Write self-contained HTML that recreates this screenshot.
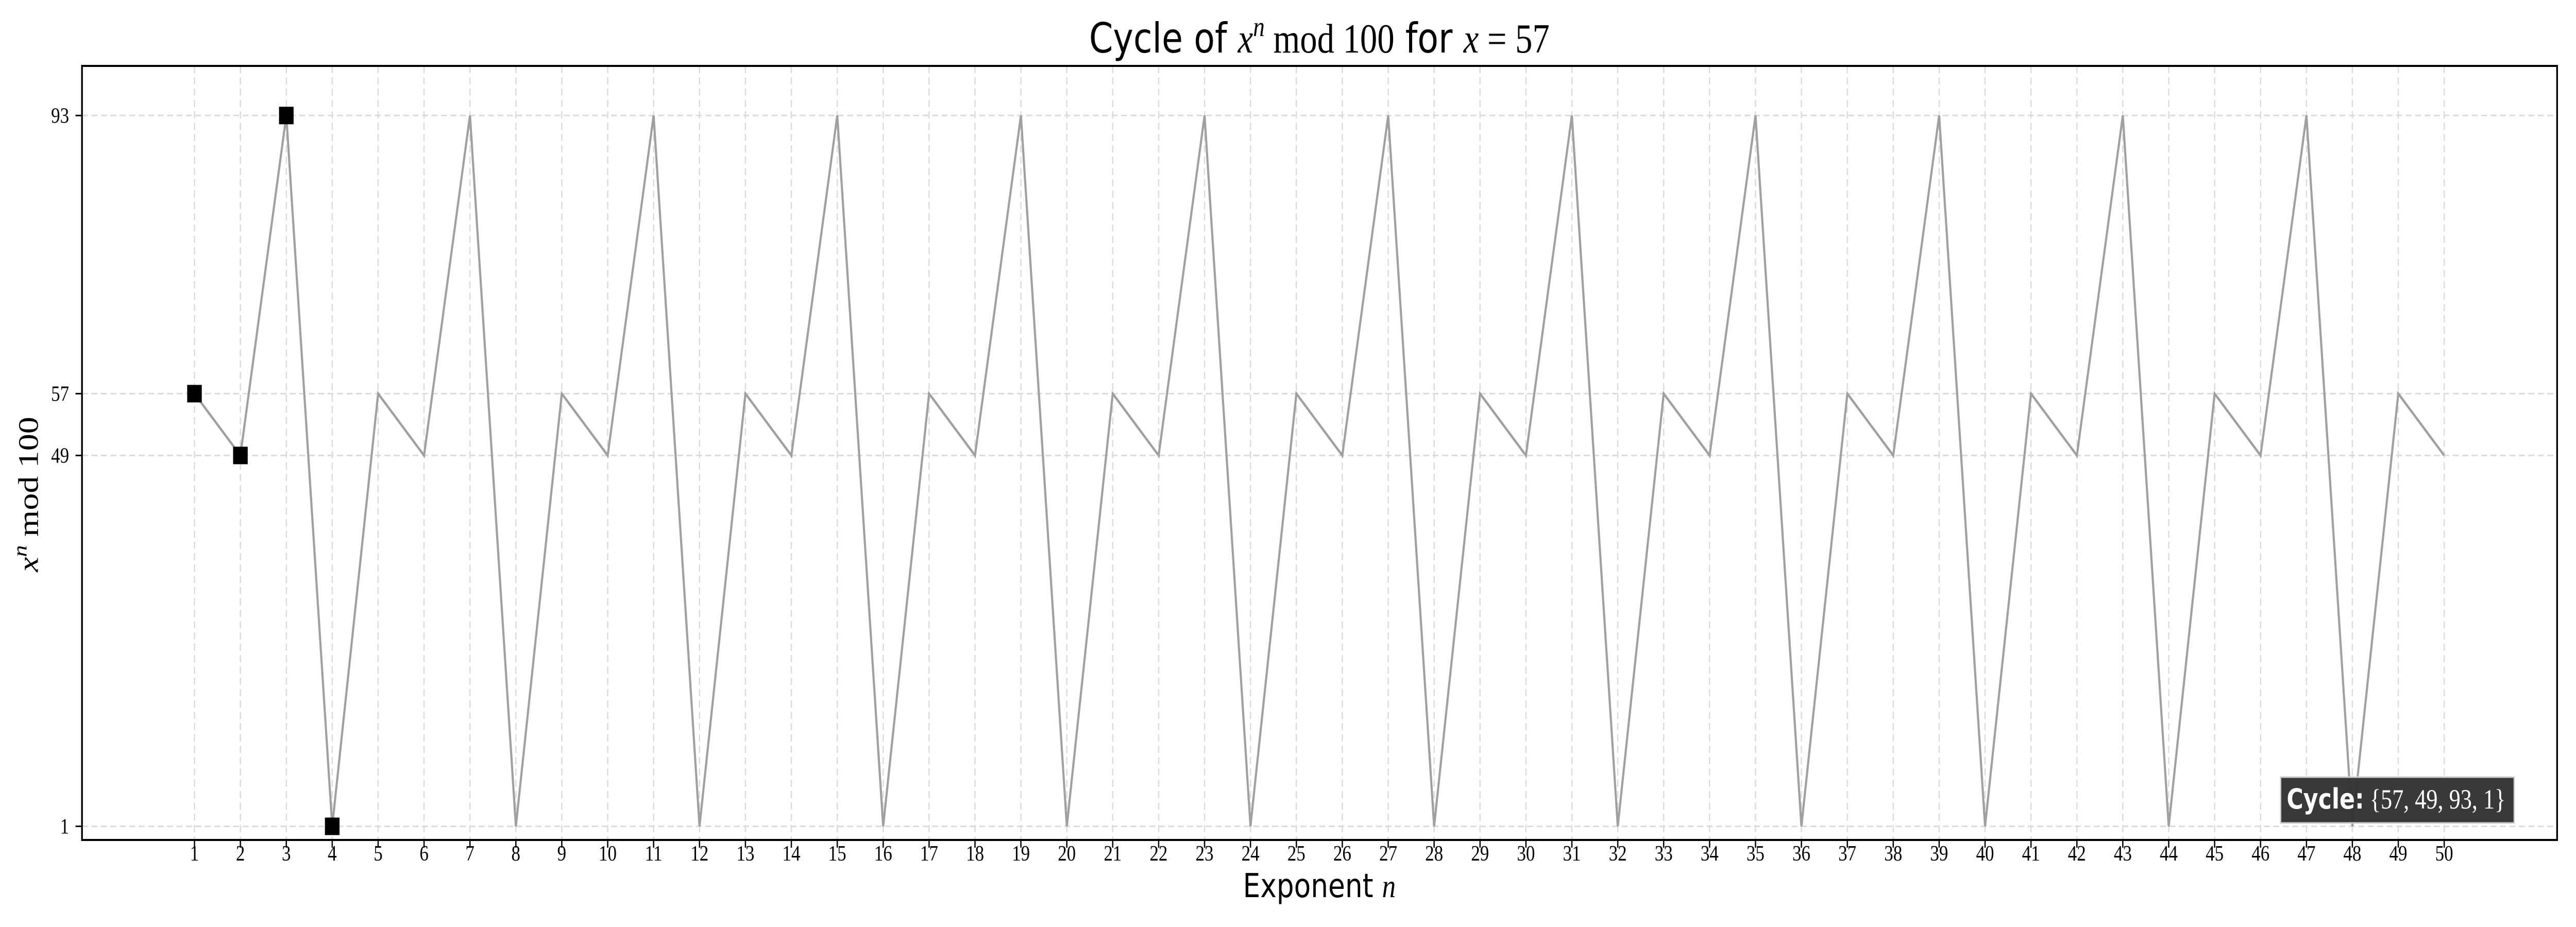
<!DOCTYPE html>
<html><head><meta charset="utf-8"><style>
html,body{margin:0;padding:0;background:#fff;width:100%;height:100%;overflow:hidden;}
svg{display:block;width:100vw;height:100vh;}
</style></head><body>
<svg id="chart" viewBox="0 0 6000 1800" preserveAspectRatio="none" xmlns="http://www.w3.org/2000/svg">
<rect x="0" y="0" width="6000" height="1800" fill="#fff"/>
<g id="grid"></g>
<g id="series"></g>
<rect x="191" y="128" width="5765" height="1503" fill="none" stroke="#000" stroke-width="4"/>
<g id="ticks"></g>
<text x="3073" y="102" text-anchor="middle" font-family="'DejaVu Sans', 'Liberation Sans', sans-serif" font-size="80">Cycle of <tspan font-family="'Liberation Serif', serif" font-style="italic">x</tspan><tspan font-family="'Liberation Serif', serif" font-style="italic" font-size="54" dy="-32">n</tspan><tspan font-family="'Liberation Serif', serif" dy="32"> mod 100</tspan> for <tspan font-family="'Liberation Serif', serif" font-style="italic">x</tspan><tspan font-family="'Liberation Serif', serif"> = 57</tspan></text>
<text x="3073" y="1742" text-anchor="middle" font-family="'DejaVu Sans', 'Liberation Sans', sans-serif" font-size="64">Exponent <tspan font-family="'Liberation Serif', serif" font-style="italic">n</tspan></text>
<text transform="translate(88,960) rotate(-90)" text-anchor="middle" font-family="'Liberation Serif', serif" font-size="66"><tspan font-style="italic">x</tspan><tspan font-style="italic" font-size="46" dy="-26">n</tspan><tspan dy="26"> mod 100</tspan></text>
<g>
<rect x="5312" y="1509" width="544" height="89" fill="#333" fill-opacity="0.97" stroke="#ccc" stroke-width="3"/>
<text x="5326" y="1570" font-size="54" fill="#fff" textLength="510" lengthAdjust="spacingAndGlyphs"><tspan font-family="'DejaVu Sans', 'Liberation Sans', sans-serif" font-weight="bold">Cycle:</tspan><tspan font-family="'Liberation Serif', serif"> {57, 49, 93, 1}</tspan></text>
</g>
</svg>
<script>
const exponents = Array.from({length:50},(_,i)=>i+1);
const residues = [57,49,93,1,57,49,93,1,57,49,93,1,57,49,93,1,57,49,93,1,57,49,93,1,57,49,93,1,57,49,93,1,57,49,93,1,57,49,93,1,57,49,93,1,57,49,93,1,57,49];
const cycleValues = [57,49,93,1];
const yTicks = [1,49,57,93];

const NS='http://www.w3.org/2000/svg';
const X0=191,X1=5956,Y0=128,Y1=1631;
function xs(n){return 453+(n-1)*(5693-453)/49;}
function ys(v){return 1604.5-(v-1)*(1604.5-224.3)/92;}
function mk(tag,attrs,parent){const e=document.createElementNS(NS,tag);for(const k in attrs)e.setAttribute(k,attrs[k]);parent.appendChild(e);return e;}
const grid=document.getElementById('grid'),ticks=document.getElementById('ticks'),series=document.getElementById('series');

exponents.forEach(n=>{
  const x=xs(n);
  const g=mk('line',{x1:x,x2:x,y1:Y0,y2:Y1,stroke:'#dcdcdc','stroke-width':3,'stroke-dasharray':'14 8'},grid);
  
  
  const t=mk('line',{x1:x,x2:x,y1:Y1,y2:Y1+15,stroke:'#000','stroke-width':3},ticks);
  
  
  const l=mk('text',{x:x,y:1671,'text-anchor':'middle','font-family':"'Liberation Serif', serif",'font-size':42},ticks);
  l.textContent=n;
  
  
});
yTicks.forEach(v=>{
  const y=ys(v);
  const g=mk('line',{x1:X0,x2:X1,y1:y,y2:y,stroke:'#dcdcdc','stroke-width':3,'stroke-dasharray':'14 8'},grid);
  
  
  const t=mk('line',{x1:X0-15,x2:X0,y1:y,y2:y,stroke:'#000','stroke-width':3},ticks);
  
  
  const l=mk('text',{x:161,y:y+14,'text-anchor':'end','font-family':"'Liberation Serif', serif",'font-size':42},ticks);
  l.textContent=v;
  
  
});
const pts=exponents.map((n,i)=>xs(n)+','+ys(residues[i])).join(' ');
const line=mk('polyline',{points:pts,fill:'none',stroke:'#a0a0a0','stroke-width':5,'stroke-linejoin':'miter'},series);


cycleValues.forEach((v,i)=>{
  const s=34;
  const m=mk('rect',{x:xs(exponents[i])-s/2,y:ys(v)-s/2,width:s,height:s,fill:'#000'},series);
  
  
});
</script>
</body></html>
